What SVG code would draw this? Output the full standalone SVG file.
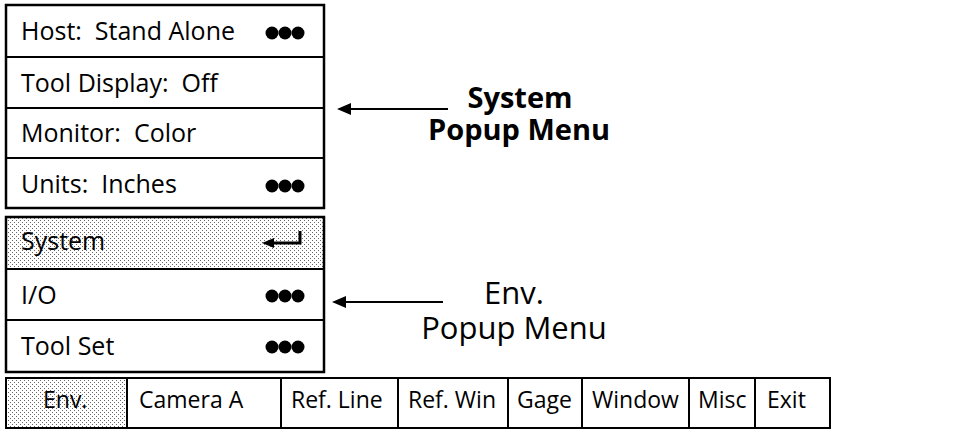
<svg xmlns="http://www.w3.org/2000/svg" width="960" height="430" viewBox="0 0 960 430">
<defs>
<pattern id="stip" width="4" height="4" patternUnits="userSpaceOnUse">
<rect width="4" height="4" fill="#ffffff"/>
<rect x="0" y="0" width="1" height="1" fill="#666"/>
<rect x="2" y="2" width="1" height="1" fill="#666"/>
</pattern>
</defs>
<style>
.cell{fill:#fff;stroke:#000;stroke-width:2}
.sh{fill:url(#stip);stroke:#000;stroke-width:2}
.frame{fill:none;stroke:#000;stroke-width:2.5}
.t{font-family:"Open Sans","Noto Sans",sans-serif;font-size:25px;fill:#000}
.bt{font-size:23px}
.lb{font-family:"Open Sans","Noto Sans",sans-serif;font-size:31px;fill:#000;text-anchor:middle}
.b{font-weight:bold;font-size:29px}
.dot{fill:#000}
.conn{stroke:#000;stroke-width:2;fill:none}
.head{fill:#000}
</style>
<rect width="960" height="430" fill="#fff"/>

<g id="system-menu">
<g id="host"><rect class="cell" x="6" y="5" width="318" height="52"/><text class="t" x="21" y="40" xml:space="preserve">Host:  Stand Alone</text><circle class="dot" cx="272" cy="33" r="6.5"/><circle class="dot" cx="285" cy="33" r="6.5"/><circle class="dot" cx="298" cy="33" r="6.5"/></g>
<g id="tool-display"><rect class="cell" x="6" y="57" width="318" height="51"/><text class="t" x="21" y="92" xml:space="preserve">Tool Display:  Off</text></g>
<g id="monitor"><rect class="cell" x="6" y="108" width="318" height="50"/><text class="t" x="21" y="142" xml:space="preserve">Monitor:  Color</text></g>
<g id="units"><rect class="cell" x="6" y="158" width="318" height="50"/><text class="t" x="21" y="193" xml:space="preserve">Units:  Inches</text><circle class="dot" cx="272" cy="186" r="6.5"/><circle class="dot" cx="285" cy="186" r="6.5"/><circle class="dot" cx="298" cy="186" r="6.5"/></g>
<rect class="frame" x="6" y="5" width="318" height="203"/>
</g>

<g id="env-menu">
<g id="system"><rect class="sh" x="6" y="217" width="318" height="52"/><text class="t" x="21" y="250">System</text><path d="M272,243 L300,243 L300,231" stroke="#000" stroke-width="3" fill="none"/><path d="M262,243 L274,238 L274,248 Z" fill="#000"/></g>
<g id="io"><rect class="cell" x="6" y="269" width="318" height="51"/><text class="t" x="21" y="304">I/O</text><circle class="dot" cx="272" cy="296" r="6.5"/><circle class="dot" cx="285" cy="296" r="6.5"/><circle class="dot" cx="298" cy="296" r="6.5"/></g>
<g id="toolset"><rect class="cell" x="6" y="320" width="318" height="52"/><text class="t" x="21" y="355">Tool Set</text><circle class="dot" cx="272" cy="347" r="6.5"/><circle class="dot" cx="285" cy="347" r="6.5"/><circle class="dot" cx="298" cy="347" r="6.5"/></g>
<rect class="frame" x="6" y="217" width="318" height="155"/>
</g>

<g id="menubar">
<g id="env"><rect class="sh" x="6" y="378" width="121" height="50"/><text class="t bt" x="43" y="408">Env.</text></g>
<g id="camera"><rect class="cell" x="127" y="378" width="154" height="50"/><text class="t bt" x="139" y="408">Camera A</text></g>
<g id="refline"><rect class="cell" x="281" y="378" width="117" height="50"/><text class="t bt" x="291" y="408">Ref. Line</text></g>
<g id="refwin"><rect class="cell" x="398" y="378" width="110" height="50"/><text class="t bt" x="408" y="408">Ref. Win</text></g>
<g id="gage"><rect class="cell" x="508" y="378" width="74" height="50"/><text class="t bt" x="517" y="408">Gage</text></g>
<g id="window"><rect class="cell" x="582" y="378" width="107" height="50"/><text class="t bt" x="592" y="408">Window</text></g>
<g id="misc"><rect class="cell" x="689" y="378" width="66" height="50"/><text class="t bt" x="698" y="408">Misc</text></g>
<g id="exit"><rect class="cell" x="755" y="378" width="75" height="50"/><text class="t bt" x="767" y="408">Exit</text></g>
</g>

<g id="label-system"><text class="lb b" x="520" y="108">System</text><text class="lb b" x="519" y="140">Popup Menu</text></g>
<g id="label-env"><text class="lb" x="514" y="304">Env.</text><text class="lb" x="514" y="339">Popup Menu</text></g>

<g id="connectors">
<line class="conn" x1="448" y1="109" x2="348" y2="109"/>
<path class="head" d="M337,109 L351,103 L351,115 Z"/>
<line class="conn" x1="443" y1="302" x2="343" y2="302"/>
<path class="head" d="M332,302 L346,296 L346,308 Z"/>
</g>
</svg>
